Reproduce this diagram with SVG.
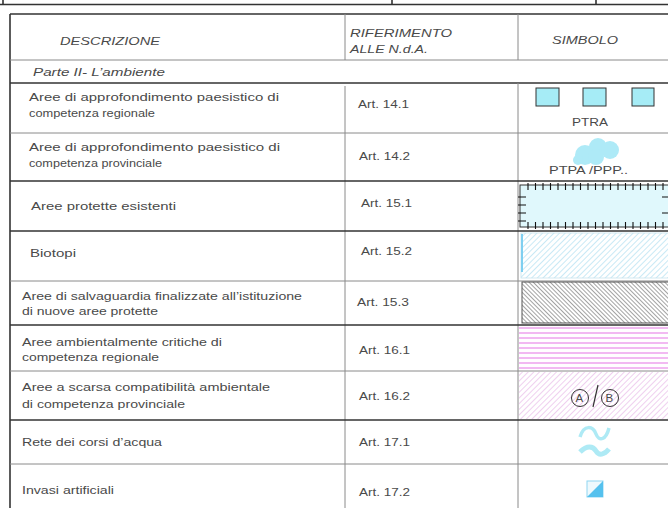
<svg xmlns="http://www.w3.org/2000/svg" width="668" height="508" viewBox="0 0 668 508">
<defs>
<style>
text{font-family:"Liberation Sans",Arial,sans-serif;font-size:11.5px;fill:#4a4a4a}
.it{font-style:italic}
.thick{stroke:#333;stroke-width:1.6;fill:none}
.thin{stroke:#8a8a8a;stroke-width:1;fill:none}
.tick{stroke:#111;stroke-width:1.1}
</style>
<pattern id="hBlue" width="4" height="4" patternUnits="userSpaceOnUse" patternTransform="rotate(45)"><line x1="0" y1="0" x2="0" y2="4" stroke="#94d3ec" stroke-width="1"/></pattern>
<pattern id="hBlack" width="3" height="3" patternUnits="userSpaceOnUse" patternTransform="rotate(-45)"><line x1="0" y1="0" x2="0" y2="3" stroke="#333" stroke-width="0.9"/></pattern>
<pattern id="hPink" width="4" height="4" patternUnits="userSpaceOnUse" patternTransform="rotate(45)"><line x1="0" y1="0" x2="0" y2="4" stroke="#e0a2e0" stroke-width="1"/></pattern>
</defs>

<g id="top-frame">
<line x1="0" y1="4.5" x2="668" y2="4.5" class="thick"/>
<line x1="3" y1="0" x2="3" y2="4.5" class="thick"/>
<line x1="392" y1="0" x2="392" y2="4.5" class="thick"/>
<line x1="596" y1="0" x2="596" y2="4.5" class="thick"/>
</g>

<g id="grid">
<line x1="10" y1="14" x2="668" y2="14" class="thick"/>
<line x1="10" y1="14" x2="10" y2="508" class="thick"/>
<line x1="10" y1="60" x2="668" y2="60" class="thin"/>
<line x1="10" y1="83" x2="668" y2="83" class="thick"/>
<line x1="345" y1="14" x2="345" y2="60" class="thin"/>
<line x1="345" y1="86" x2="345" y2="508" class="thin"/>
<line x1="518" y1="14" x2="518" y2="60" class="thin"/>
<line x1="518" y1="83" x2="518" y2="508" class="thin"/>
<line x1="10" y1="133" x2="668" y2="133" class="thin"/>
<line x1="10" y1="181" x2="668" y2="181" class="thick"/>
<line x1="10" y1="231" x2="668" y2="231" class="thick"/>
<line x1="10" y1="281" x2="668" y2="281" class="thin"/>
<line x1="10" y1="325" x2="668" y2="325" class="thick"/>
<line x1="10" y1="371" x2="668" y2="371" class="thin"/>
<line x1="10" y1="420" x2="668" y2="420" class="thick"/>
<line x1="10" y1="464" x2="668" y2="464" class="thin"/>
</g>

<g id="header">
<text class="it" x="60" y="45" textLength="100" lengthAdjust="spacingAndGlyphs">DESCRIZIONE</text>
<text class="it" x="350" y="37" textLength="102" lengthAdjust="spacingAndGlyphs">RIFERIMENTO</text>
<text class="it" x="350" y="53" textLength="78" lengthAdjust="spacingAndGlyphs">ALLE N.d.A.</text>
<text class="it" x="552" y="44" textLength="66" lengthAdjust="spacingAndGlyphs">SIMBOLO</text>
</g>

<g id="parte">
<text class="it" x="33" y="76" textLength="132" lengthAdjust="spacingAndGlyphs">Parte II- L’ambiente</text>
</g>

<g id="row-14-1">
<text x="29" y="101" textLength="250" lengthAdjust="spacingAndGlyphs">Aree di approfondimento paesistico di</text>
<text x="29" y="117" textLength="126" lengthAdjust="spacingAndGlyphs">competenza regionale</text>
<text x="358" y="108" textLength="51" lengthAdjust="spacingAndGlyphs">Art. 14.1</text>
<g stroke="#333" stroke-width="1" fill="#a6ecf6">
<rect x="536" y="88" width="23" height="18"/>
<rect x="583" y="88" width="23" height="18"/>
<rect x="632" y="88" width="22" height="18"/>
</g>
<text x="572" y="126" textLength="36" lengthAdjust="spacingAndGlyphs">PTRA</text>
</g>

<g id="row-14-2">
<text x="29" y="151" textLength="251" lengthAdjust="spacingAndGlyphs">Aree di approfondimento paesistico di</text>
<text x="29" y="167" textLength="133" lengthAdjust="spacingAndGlyphs">competenza provinciale</text>
<text x="359" y="160" textLength="51" lengthAdjust="spacingAndGlyphs">Art. 14.2</text>
<g fill="#aeeaf7">
<circle cx="585" cy="155" r="10"/>
<circle cx="598" cy="147" r="9"/>
<circle cx="610" cy="150" r="9"/>
<circle cx="596" cy="157" r="8"/>
<circle cx="578" cy="160" r="5"/>
</g>
<text x="549" y="174" textLength="79" lengthAdjust="spacingAndGlyphs">PTPA /PPP..</text>
</g>

<g id="row-15-1">
<text x="31" y="210" textLength="145" lengthAdjust="spacingAndGlyphs">Aree protette esistenti</text>
<text x="361" y="207" textLength="51" lengthAdjust="spacingAndGlyphs">Art. 15.1</text>
<rect x="520" y="185" width="150" height="42" fill="#e0f8fc" stroke="#333" stroke-width="1"/>
<path class="tick" d="M528 183v7M535.5 183v7M543 183v7M550.5 183v7M558 183v7M565.5 183v7M573 183v7M580.5 183v7M588 183v7M595.5 183v7M603 183v7M610.5 183v7M618 183v7M625.5 183v7M633 183v7M640.5 183v7M648 183v7M655.5 183v7M663 183v7
M528 229v-7M535.5 229v-7M543 229v-7M550.5 229v-7M558 229v-7M565.5 229v-7M573 229v-7M580.5 229v-7M588 229v-7M595.5 229v-7M603 229v-7M610.5 229v-7M618 229v-7M625.5 229v-7M633 229v-7M640.5 229v-7M648 229v-7M655.5 229v-7M663 229v-7
M518 197h8M518 205h8M518 213h8M518 221h8M662 197h6M662 213h6"/>
</g>

<g id="row-15-2">
<text x="30" y="257" textLength="46" lengthAdjust="spacingAndGlyphs">Biotopi</text>
<text x="361" y="255" textLength="51" lengthAdjust="spacingAndGlyphs">Art. 15.2</text>
<rect x="521" y="233" width="150" height="45" fill="url(#hBlue)" stroke="#c8e4ee" stroke-width="0.8"/>
<line x1="522" y1="234" x2="522" y2="272" stroke="#7fcff0" stroke-width="2"/>
</g>

<g id="row-15-3">
<text x="22" y="300" textLength="280" lengthAdjust="spacingAndGlyphs">Aree di salvaguardia finalizzate all’istituzione</text>
<text x="22" y="315" textLength="136" lengthAdjust="spacingAndGlyphs">di nuove aree protette</text>
<text x="357" y="306" textLength="52" lengthAdjust="spacingAndGlyphs">Art. 15.3</text>
<rect x="522" y="282" width="150" height="41" fill="url(#hBlack)" stroke="#555" stroke-width="1"/>
</g>

<g id="row-16-1">
<text x="22" y="346" textLength="200" lengthAdjust="spacingAndGlyphs">Aree ambientalmente critiche di</text>
<text x="22" y="361" textLength="137" lengthAdjust="spacingAndGlyphs">competenza regionale</text>
<text x="359" y="354" textLength="51" lengthAdjust="spacingAndGlyphs">Art. 16.1</text>
<path stroke="#eea4ee" stroke-width="1.5" d="M519 328H668M519 333H668M519 338H668M519 343H668M519 348H668M519 353H668M519 358H668M519 363H668M519 368H668"/>
</g>

<g id="row-16-2">
<text x="22" y="391" textLength="248" lengthAdjust="spacingAndGlyphs">Aree a scarsa compatibilità ambientale</text>
<text x="22" y="408" textLength="163" lengthAdjust="spacingAndGlyphs">di competenza provinciale</text>
<text x="359" y="400" textLength="51" lengthAdjust="spacingAndGlyphs">Art. 16.2</text>
<rect x="519" y="372" width="150" height="47" fill="url(#hPink)"/>
<circle cx="580" cy="398" r="8.5" fill="none" stroke="#333" stroke-width="1"/>
<circle cx="610" cy="398" r="8.5" fill="none" stroke="#333" stroke-width="1"/>
<text x="575.5" y="402" style="font-size:11.5px">A</text>
<text x="605.5" y="402" style="font-size:11.5px">B</text>
<line x1="593" y1="407" x2="598" y2="385" stroke="#333" stroke-width="1.2"/>
</g>

<g id="row-17-1">
<text x="22" y="446" textLength="140" lengthAdjust="spacingAndGlyphs">Rete dei corsi d’acqua</text>
<text x="359" y="446" textLength="51" lengthAdjust="spacingAndGlyphs">Art. 17.1</text>
<path d="M580 437C584 424 593 426 596 434C599 442 606 440 609 428" fill="none" stroke="#aeeaf5" stroke-width="3.5"/>
<path d="M580 452C587 445 593 446 596 451C599 456 604 455 609 449" fill="none" stroke="#aeeaf5" stroke-width="5"/>
</g>

<g id="row-17-2">
<text x="22" y="494" textLength="92" lengthAdjust="spacingAndGlyphs">Invasi artificiali</text>
<text x="359" y="496" textLength="51" lengthAdjust="spacingAndGlyphs">Art. 17.2</text>
<rect x="587" y="481" width="16" height="16" fill="#eef9fd" stroke="#8fd6f2" stroke-width="1"/>
<path d="M603 481V497H587Z" fill="#55c1ee"/>
</g>
</svg>
